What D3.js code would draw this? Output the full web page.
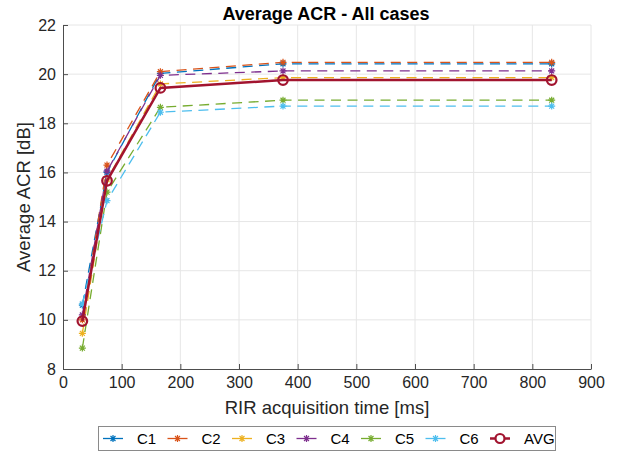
<!DOCTYPE html>
<html>
<head>
<meta charset="utf-8">
<script src="https://cdn.jsdelivr.net/npm/d3@7"></script>
<style>
  body { margin:0; background:#fff; }
  svg { font-family: "Liberation Sans", Arial, Helvetica, sans-serif; }
  .grid line { stroke:#e6e6e6; stroke-width:1; }
  .axis path, .axis line { stroke:#4d4d4d; }
  .axis text { fill:#262626; font-size:16px; }
</style>
</head>
<body>
<svg id="chart" width="628" height="453"></svg>
<script>
/* Datos: tiempo de adquisición RIR vs ACR promedio */
const times = [33, 75, 166, 375, 833];
const seriesNames = ["C1", "C2", "C3", "C4", "C5", "C6"];
const c1 = [10.60, 16.00, 20.03, 20.42, 20.42];
const c2 = [10.00, 16.30, 20.10, 20.48, 20.48];
const c3 = [9.45, 15.70, 19.60, 19.86, 19.86];
const c4 = [10.20, 16.05, 19.95, 20.13, 20.13];
const c5 = [8.85, 15.20, 18.65, 18.94, 18.94];
const c6 = [10.65, 14.85, 18.45, 18.70, 18.70];
const avg = [9.95, 15.66, 19.44, 19.76, 19.76];
const xTicks = [0, 100, 200, 300, 400, 500, 600, 700, 800, 900];
const yTicks = [8, 10, 12, 14, 16, 18, 20, 22];

const colors = ["#0072BD", "#D95319", "#EDB120", "#7E2F8E", "#77AC30", "#4DBEEE"];
const avgColor = "#A2142F";
const cases = [c1, c2, c3, c4, c5, c6];

const svg = d3.select("#chart");
const pLeft = 63, pRight = 591, pTop = 25, pBottom = 369;

const x = d3.scaleLinear().domain([0, 900]).range([pLeft, pRight]);
const y = d3.scaleLinear().domain([8, 22]).range([pBottom, pTop]);

// rejilla
const grid = svg.append("g").attr("class", "grid");
grid.selectAll("line.v").data(xTicks.slice(1)).enter().append("line")
  .attr("x1", d => x(d)).attr("x2", d => x(d))
  .attr("y1", pTop).attr("y2", pBottom);
grid.selectAll("line.h").data(yTicks.slice(1)).enter().append("line")
  .attr("x1", pLeft).attr("x2", pRight)
  .attr("y1", d => y(d)).attr("y2", d => y(d));

// ejes (ticks hacia adentro, como MATLAB)
svg.append("g").attr("class", "axis")
  .attr("transform", `translate(0,${pBottom})`)
  .call(d3.axisBottom(x).tickValues(xTicks).tickSizeInner(-5).tickSizeOuter(0).tickPadding(8))
  .call(g => g.selectAll("text").attr("dy", "0.71em"));
svg.append("g").attr("class", "axis")
  .attr("transform", `translate(${pLeft},0)`)
  .call(d3.axisLeft(y).tickValues(yTicks).tickSizeInner(-5).tickSizeOuter(0).tickPadding(7));

// marcador asterisco
function star(s){
  const d = s * 0.7071;
  return `M${-s},0L${s},0M0,${-s}L0,${s}M${-d},${-d}L${d},${d}M${-d},${d}L${d},${-d}`;
}

const line = d3.line().x((d, i) => x(times[i])).y(d => y(d));

cases.forEach((vals, k) => {
  const g = svg.append("g");
  g.append("path").datum(vals)
    .attr("d", line).attr("fill", "none")
    .attr("stroke", colors[k]).attr("stroke-width", 1.3)
    .attr("stroke-dasharray", "10,6.5");
  g.selectAll("path.m").data(vals).enter().append("path")
    .attr("d", star(3.5))
    .attr("transform", (d, i) => `translate(${x(times[i])},${y(d)})`)
    .attr("stroke", colors[k]).attr("stroke-width", 1.2).attr("fill", "none");
});

const ga = svg.append("g");
ga.append("path").datum(avg)
  .attr("d", line).attr("fill", "none")
  .attr("stroke", avgColor).attr("stroke-width", 2.5);
ga.selectAll("circle").data(avg).enter().append("circle")
  .attr("cx", (d, i) => x(times[i])).attr("cy", d => y(d)).attr("r", 4.8)
  .attr("fill", "none").attr("stroke", avgColor).attr("stroke-width", 2.2);

// textos
svg.append("text").attr("x", 326).attr("y", 20).attr("text-anchor", "middle")
  .attr("font-weight", "bold").attr("font-size", 18).attr("fill", "#000")
  .text("Average ACR - All cases");
svg.append("text").attr("x", (pLeft + pRight) / 2).attr("y", 414).attr("text-anchor", "middle")
  .attr("font-size", 18.5).attr("fill", "#262626")
  .text("RIR acquisition time [ms]");
svg.append("text").attr("transform", `translate(30,${(pTop + pBottom) / 2}) rotate(-90)`)
  .attr("text-anchor", "middle").attr("font-size", 18.5).attr("fill", "#262626")
  .text("Average ACR [dB]");

// leyenda
const legendNames = seriesNames.concat(["AVG"]);
const legend = svg.append("g");
legend.append("rect").attr("x", 98.5).attr("y", 426.5).attr("width", 457).attr("height", 24)
  .attr("fill", "#fff").attr("stroke", "#8a8a8a").attr("stroke-width", 1);
legendNames.forEach((name, i) => {
  const lx = 103 + i * 64.5, ly = 438.5;
  const col = i < 6 ? colors[i] : avgColor;
  const item = legend.append("g");
  item.append("line").attr("x1", lx).attr("x2", lx + 20).attr("y1", ly).attr("y2", ly)
    .attr("stroke", col).attr("stroke-width", i < 6 ? 1.3 : 2.5);
  if(i < 6){
    item.append("path").attr("d", star(3.5)).attr("transform", `translate(${lx + 10},${ly})`)
      .attr("stroke", col).attr("stroke-width", 1.2).attr("fill", "none");
  } else {
    item.append("circle").attr("cx", lx + 10).attr("cy", ly).attr("r", 4.5)
      .attr("fill", "#fff").attr("stroke", col).attr("stroke-width", 2.2);
  }
  item.append("text").attr("x", lx + 34).attr("y", ly + 5.5).attr("font-size", 15)
    .attr("fill", "#000").text(name);
});
</script>
</body>
</html>
